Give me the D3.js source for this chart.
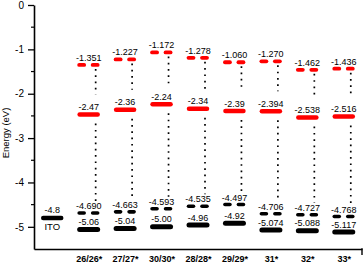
<!DOCTYPE html>
<html>
<head>
<meta charset="utf-8">
<script src="https://cdn.jsdelivr.net/npm/d3@7"></script>
<style>
  body { margin: 0; background: #fff; }
  svg { font-family: "Liberation Sans", Arial, sans-serif; }
</style>
</head>
<body>
<div id="container"></div>
<script>
var width = 364, height = 264;

// categories and energy levels (eV)
var categories = ["26/26*", "27/27*", "30/30*", "28/28*", "29/29*", "31*", "32*", "33*"];
var itoLevel = -4.8;
// upper red level: drawn position and printed label
var lumo1 = [-1.351, -1.227, -1.07, -1.19, -1.29, -1.270, -1.462, -1.436];
var lumo1Labels = ["-1.351", "-1.227", "-1.172", "-1.278", "-1.060", "-1.270", "-1.462", "-1.436"];
var lumoLabels = ["-2.47", "-2.36", "-2.24", "-2.34", "-2.39", "-2.394", "-2.538", "-2.516"];
var homo1Labels = ["-4.690", "-4.663", "-4.593", "-4.535", "-4.497", "-4.706", "-4.727", "-4.768"];
var homoLabels = ["-5.06", "-5.04", "-5.00", "-4.96", "-4.92", "-5.074", "-5.088", "-5.117"];
var yTicks = [0, -1, -2, -3, -4, -5];
var yMinor = [-0.5, -1.5, -2.5, -3.5, -4.5];

var svg = d3.select("#container")
    .append("svg")
        .attr("width", width)
        .attr("height", height);

var x = d3.scalePoint()
    .domain(["ITO"].concat(categories))
    .range([34, 362])
    .padding(0.5);

var y = d3.scaleLinear()
    .domain([-5.5, 0])
    .range([249, 5]);

// y axis
var yAxis = svg.append("g")
    .attr("transform", "translate(34,0)")
    .call(d3.axisLeft(y).tickValues(yTicks).tickSize(6).tickSizeOuter(0)
        .tickFormat(function(d) { return String(d); }));
yAxis.select(".domain").attr("stroke-width", 1.6);
yAxis.selectAll(".tick line").attr("stroke-width", 1.3);
yAxis.selectAll(".tick text").attr("font-size", 10).attr("font-family", "Liberation Sans, Arial").attr("dx", -1);

svg.append("g")
    .attr("transform", "translate(34,0)")
    .selectAll("line")
    .data(yMinor)
    .enter()
    .append("line")
    .attr("x1", -3)
    .attr("x2", 0)
    .attr("y1", function(d) { return y(d); })
    .attr("y2", function(d) { return y(d); })
    .attr("stroke", "black")
    .attr("stroke-width", 1.2);

svg.append("text")
    .attr("transform", "translate(9," + 133 + ") rotate(-90)")
    .attr("text-anchor", "middle")
    .attr("font-size", 9.5)
    .text("Energy (eV)");

// x axis
var xAxis = svg.append("g")
    .attr("transform", "translate(0,249)")
    .call(d3.axisBottom(x).tickSize(0).tickSizeOuter(0).tickPadding(7)
        .tickFormat(function(d) { return d == "ITO" ? "" : d; }));
xAxis.select(".domain").attr("stroke-width", 1.6);
xAxis.selectAll(".tick text")
    .attr("font-size", 9)
    .attr("font-weight", "bold")
    .attr("font-family", "Liberation Sans, Arial");

svg.append("line")
    .attr("x1", x.range()[1])
    .attr("x2", x.range()[1])
    .attr("y1", 248.2)
    .attr("y2", 255)
    .attr("stroke", "black")
    .attr("stroke-width", 1.4);

var rows = categories.map(function(c, i) {
    return {
        cat: c,
        top: lumo1[i], topLab: lumo1Labels[i],
        lumo: +lumoLabels[i], lumoLab: lumoLabels[i],
        homo1: +homo1Labels[i], homo1Lab: homo1Labels[i],
        homo: +homoLabels[i], homoLab: homoLabels[i]
    };
});

var g = svg.selectAll(".grp")
    .data(rows)
    .enter()
    .append("g")
    .attr("class", "grp");

// dotted connectors
g.append("line")
    .attr("x1", function(d) { return x(d.cat) + 7; })
    .attr("x2", function(d) { return x(d.cat) + 7; })
    .attr("y1", function(d) { return y(d.top) + 4; })
    .attr("y2", function(d) { return y(d.lumo) - 20; })
    .attr("stroke", "black")
    .attr("stroke-width", 1.7)
    .attr("stroke-dasharray", "1.7,4.6");

g.append("line")
    .attr("x1", function(d) { return x(d.cat) + 7; })
    .attr("x2", function(d) { return x(d.cat) + 7; })
    .attr("y1", function(d) { return y(d.lumo) + 9; })
    .attr("y2", function(d) { return y(d.homo1) - 12; })
    .attr("stroke", "black")
    .attr("stroke-width", 1.7)
    .attr("stroke-dasharray", "1.7,4.6");

function dashes(sel, key, color, w) {
    [[-9.5, -4.5], [4, 9]].forEach(function(p) {
        sel.append("line")
            .attr("x1", function(d) { return x(d.cat) + p[0]; })
            .attr("x2", function(d) { return x(d.cat) + p[1]; })
            .attr("y1", function(d) { return y(d[key]); })
            .attr("y2", function(d) { return y(d[key]); })
            .attr("stroke", color)
            .attr("stroke-width", w)
            .attr("stroke-linecap", "round");
    });
}

function bar(sel, key, color, w) {
    sel.append("line")
        .attr("x1", function(d) { return x(d.cat) - 9; })
        .attr("x2", function(d) { return x(d.cat) + 9; })
        .attr("y1", function(d) { return y(d[key]); })
        .attr("y2", function(d) { return y(d[key]); })
        .attr("stroke", color)
        .attr("stroke-width", w)
        .attr("stroke-linecap", "round");
}

function label(sel, key, lab, dy) {
    sel.append("text")
        .attr("x", function(d) { return x(d.cat); })
        .attr("y", function(d) { return y(d[key]) - dy; })
        .attr("text-anchor", "middle")
        .attr("font-size", 9)
        .text(function(d) { return d[lab]; });
}

dashes(g, "top", "#ff0000", 3.8);
bar(g, "lumo", "#ff0000", 4.5);
dashes(g, "homo1", "black", 3.6);
bar(g, "homo", "black", 5);

label(g, "top", "topLab", 4);
label(g, "lumo", "lumoLab", 4.5);
label(g, "homo1", "homo1Lab", 4);
label(g, "homo", "homoLab", 4.5);

// ITO
svg.append("line")
    .attr("x1", x("ITO") - 9)
    .attr("x2", x("ITO") + 9)
    .attr("y1", y(itoLevel))
    .attr("y2", y(itoLevel))
    .attr("stroke", "black")
    .attr("stroke-width", 4.5)
    .attr("stroke-linecap", "round");
svg.append("text")
    .attr("x", x("ITO"))
    .attr("y", y(itoLevel) - 5)
    .attr("text-anchor", "middle")
    .attr("font-size", 9)
    .text(String(itoLevel));
svg.append("text")
    .attr("x", x("ITO"))
    .attr("y", y(itoLevel) + 12)
    .attr("text-anchor", "middle")
    .attr("font-size", 9.5)
    .text("ITO");
</script>
</body>
</html>
